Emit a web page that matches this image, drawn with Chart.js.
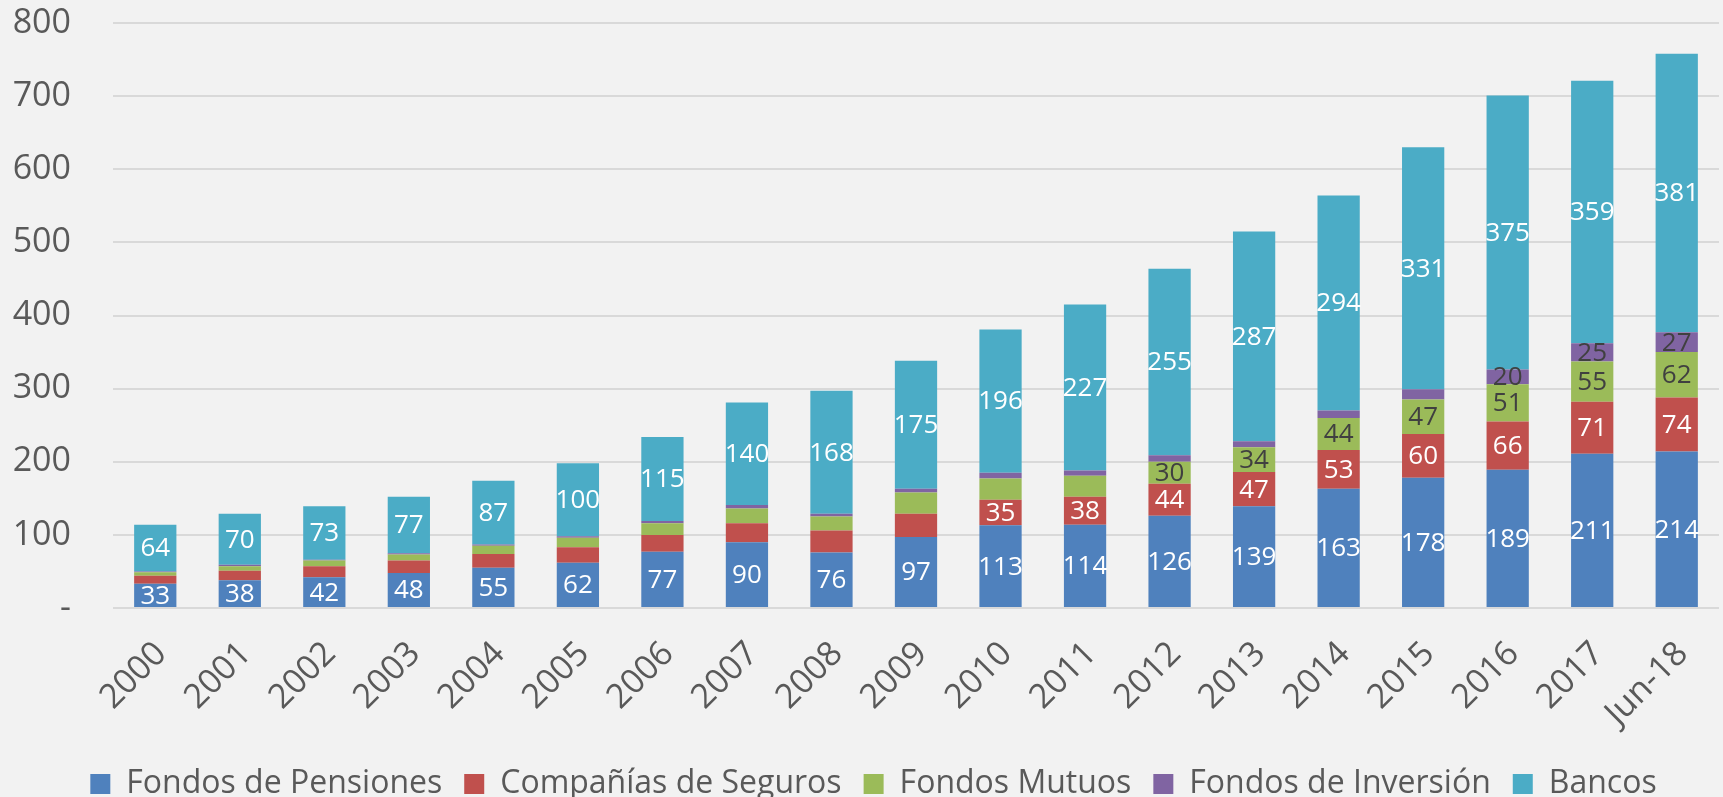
<!DOCTYPE html>
<html>
<head>
<meta charset="utf-8">
<script src="https://cdn.jsdelivr.net/npm/chart.js@4.4.0/dist/chart.umd.min.js"></script>
<style>
    html, body { margin: 0; padding: 0; background: #f2f2f2; }
</style>
</head>
<body>
<canvas id="chart" width="1723" height="797"></canvas>
<script>
const categories = ['2000', '2001', '2002', '2003', '2004', '2005', '2006', '2007', '2008', '2009',
    '2010', '2011', '2012', '2013', '2014', '2015', '2016', '2017', 'Jun-18'];
const fondosPensiones = [33, 38, 42, 48, 55, 62, 77, 90, 76, 97, 113, 114, 126, 139, 163, 178, 189, 211, 214];
const companiasSeguros = [11, 13, 15, 17, 19, 21, 23, 26, 30, 32, 35, 38, 44, 47, 53, 60, 66, 71, 74];
const fondosMutuos = [5, 6, 8, 8, 11, 13, 16, 20, 19, 29, 29, 29, 30, 34, 44, 47, 51, 55, 62];
const fondosInversion = [1, 2, 1, 2, 2, 2, 3, 5, 4, 5, 8, 7, 9, 8, 10, 14, 20, 25, 27];
const bancos = [64, 70, 73, 77, 87, 100, 115, 140, 168, 175, 196, 227, 255, 287, 294, 331, 375, 359, 381];
const seriesNames = ['Fondos de Pensiones', 'Compañías de Seguros', 'Fondos Mutuos', 'Fondos de Inversión', 'Bancos'];
const yTicks = [0, 100, 200, 300, 400, 500, 600, 700, 800];
// first category index where each series shows its value label
const labelFrom = [0, 10, 12, 16, 0];

const FONT = "'Open Sans', sans-serif";
const colors = ['#4F81BD', '#C0504D', '#9BBB59', '#8064A2', '#4BACC6'];
const labelColors = ['#ffffff', '#ffffff', '#404040', '#404040', '#ffffff'];

// value labels centred in each segment
const segmentLabels = {
    id: 'segmentLabels',
    afterDatasetsDraw(chart) {
        const ctx = chart.ctx;
        ctx.save();
        ctx.font = '26px ' + FONT;
        ctx.textAlign = 'center';
        ctx.textBaseline = 'middle';
        chart.data.datasets.forEach((ds, d) => {
            const meta = chart.getDatasetMeta(d);
            meta.data.forEach((bar, i) => {
                if (i < labelFrom[d]) return;
                ctx.fillStyle = labelColors[d];
                ctx.fillText(ds.data[i], bar.x, (bar.y + bar.base) / 2 + 1);
            });
        });
        ctx.restore();
    }
};

// nudge the legend a little to the right, as in the original
const legendShift = {
    id: 'legendShift',
    afterLayout(chart) {
        chart.legend.left += 14;
        chart.legend.right += 14;
    }
};

const allSeries = [fondosPensiones, companiasSeguros, fondosMutuos, fondosInversion, bancos];

new Chart(document.getElementById('chart').getContext('2d'), {
    type: 'bar',
    data: {
        labels: categories,
        datasets: allSeries.map((values, k) => ({
            label: seriesNames[k],
            data: values,
            backgroundColor: colors[k],
            barPercentage: 0.5,
            categoryPercentage: 1
        }))
    },
    options: {
        responsive: false,
        animation: false,
        layout: {
            padding: { top: 23, right: 4, left: 0, bottom: -13 }
        },
        plugins: {
            tooltip: { enabled: false },
            legend: {
                position: 'bottom',
                labels: {
                    boxWidth: 20,
                    boxHeight: 20,
                    padding: 22,
                    color: '#595959',
                    font: { family: FONT, size: 32 }
                }
            }
        },
        scales: {
            x: {
                stacked: true,
                grid: { display: false },
                border: { display: false },
                ticks: {
                    color: '#595959',
                    font: { family: FONT, size: 34 },
                    minRotation: 45,
                    maxRotation: 45,
                    padding: 18,
                    labelOffset: 6
                },
                afterFit: (scale) => {
                    scale.height = 138;
                    scale.paddingLeft = 0;
                    scale.paddingRight = 0;
                }
            },
            y: {
                stacked: true,
                min: 0,
                max: 800,
                afterBuildTicks: (scale) => { scale.ticks = yTicks.map(v => ({ value: v })); },
                grid: { color: '#d9d9d9', lineWidth: 2, drawTicks: false },
                border: { display: false },
                ticks: {
                    color: '#595959',
                    font: { family: FONT, size: 34 },
                    padding: 42,
                    callback: (v) => v === 0 ? '-' : v
                },
                afterFit: (scale) => {
                    scale.width = 113;
                    scale.paddingTop = 0;
                    scale.paddingBottom = 0;
                }
            }
        }
    },
    plugins: [segmentLabels, legendShift]
});
</script>
</body>
</html>
